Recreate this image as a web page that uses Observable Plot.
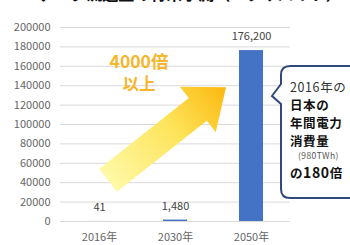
<!DOCTYPE html>
<html><head><meta charset="utf-8">
<script src="https://cdn.jsdelivr.net/npm/d3@7"></script>
<script src="https://cdn.jsdelivr.net/npm/@observablehq/plot@0.6"></script>
<style>
html,body{margin:0;padding:0;background:#fff;overflow:hidden;}
#chart{position:relative;width:350px;height:245px;overflow:hidden;}
</style></head><body><div id="chart"></div>
<script>
const years = ["2016年", "2030年", "2050年"];
const values = [41, 1480, 176200];
const valueLabels = ["41", "1,480", "176,200"];
const yTicks = [0, 20000, 40000, 60000, 80000, 100000, 120000, 140000, 160000, 180000, 200000];
const growthLines = ["4000倍", "以上"];
const calloutLines = ["2016年の", "日本の", "年間電力", "消費量", "(980TWh)"];
const calloutLast = ["の", "180", "倍"];
const titleText = "データ流通量の将来予測（エクサバイト）";

const data = years.map((year, i) => ({year, value: values[i], label: valueLabels[i]}));
const FONT = "'Noto Sans CJK JP', 'Noto Sans', sans-serif";

function annotations(index, scales, values, dims) {
  const {x, y} = scales;
  const bw = x.bandwidth();
  const g = d3.create("svg:g");
  // title (cut off at top)
  g.append("text").attr("x", 190).attr("y", 0).attr("text-anchor", "middle")
    .attr("font-size", 16).attr("font-weight", "bold").attr("fill", "#111").text(titleText);
  // arrow
  const tail = [x(years[0]) + bw / 2 + 9, y(41800)];
  const tip = [x(years[2]) + bw / 2 - 25, y(138000)];
  const dx = tip[0] - tail[0], dy = tip[1] - tail[1], L = Math.hypot(dx, dy);
  const u = [dx / L, dy / L], n = [-u[1], u[0]];
  const hl = 36, hs = 14.5, hh = 29;
  const base = [tip[0] - u[0] * hl, tip[1] - u[1] * hl];
  const P = (p, k) => [p[0] + n[0] * k, p[1] + n[1] * k];
  const pts = [P(tail, hs), P(base, hs), P(base, hh), tip, P(base, -hh), P(base, -hs), P(tail, -hs)];
  const defs = g.append("defs");
  const grad = defs.append("linearGradient").attr("id", "arrowGrad")
    .attr("gradientUnits", "userSpaceOnUse")
    .attr("x1", tail[0]).attr("y1", tail[1]).attr("x2", tip[0]).attr("y2", tip[1]);
  grad.append("stop").attr("offset", "0%").attr("stop-color", "#fff9a8");
  grad.append("stop").attr("offset", "55%").attr("stop-color", "#fde45a");
  grad.append("stop").attr("offset", "100%").attr("stop-color", "#fbb80f");
  g.append("polygon").attr("points", pts.map(p => p.join(",")).join(" ")).attr("fill", "url(#arrowGrad)");
  // growth text
  const gx = x(years[0]) + bw / 2 + 40;
  g.append("text").attr("x", gx).attr("y", 68).attr("text-anchor", "middle")
    .attr("font-size", 17.5).attr("font-weight", "bold").attr("fill", "#f7b52c").text(growthLines[0]);
  g.append("text").attr("x", gx).attr("y", 90).attr("text-anchor", "middle")
    .attr("font-size", 16.5).attr("font-weight", "bold").attr("fill", "#f7b52c").text(growthLines[1]);
  // callout box
  const bx = 281, by = 66, bb = 198, r = 9, right = 380;
  const path = `M${bx + r},${by} L${right},${by} L${right},${bb} L${bx + r},${bb} Q${bx},${bb} ${bx},${bb - r} L${bx},${104} L${272},${96} L${bx},${84} L${bx},${by + r} Q${bx},${by} ${bx + r},${by} Z`;
  g.append("path").attr("d", path).attr("fill", "#fff").attr("stroke", "#2f4a78").attr("stroke-width", 2);
  const tx = 290;
  const specs = [
    {y: 92, size: 12.5, weight: "normal", fill: "#333", ls: 0.6},
    {y: 110, size: 12.5, weight: "bold", fill: "#111", ls: 0.6},
    {y: 128, size: 12.5, weight: "bold", fill: "#111", ls: 0.6},
    {y: 146, size: 12.5, weight: "bold", fill: "#111", ls: 0.6},
    {y: 159, size: 8.5, weight: "normal", fill: "#555", dx: 8, ls: 0.4}
  ];
  calloutLines.forEach((t, i) => {
    const s = specs[i];
    g.append("text").attr("x", tx + (s.dx || 0)).attr("y", s.y).attr("font-size", s.size)
      .attr("text-anchor", "start").attr("letter-spacing", s.ls)
      .attr("font-weight", s.weight).attr("fill", s.fill).text(t);
  });
  const last = g.append("text").attr("x", tx).attr("y", 178).attr("fill", "#111")
    .attr("text-anchor", "start").attr("font-weight", "bold").attr("letter-spacing", 0.6);
  last.append("tspan").attr("font-size", 12.5).text(calloutLast[0]);
  last.append("tspan").attr("font-size", 14).text(calloutLast[1]);
  last.append("tspan").attr("font-size", 12.5).text(calloutLast[2]);
  return g.node();
}

const chart = Plot.plot({
  width: 350, height: 245,
  marginTop: 27, marginBottom: 24, marginLeft: 60, marginRight: 60,
  style: {fontFamily: FONT, fontSize: "11px", color: "#666", background: "white", overflow: "visible"},
  x: {domain: years, paddingInner: 0.69, paddingOuter: 0.345, label: null},
  y: {domain: [0, 200000], label: null},
  marks: [
    Plot.ruleY(yTicks, {stroke: "#d9d9d9", strokeWidth: 1}),
    Plot.barY(data, {x: "year", y: "value", fill: "#4472c4"}),
    Plot.text(data, {x: "year", y: "value", text: "label", dy: -14, fill: "#444", fontSize: 11}),
    Plot.axisY({ticks: yTicks, tickSize: 0, tickPadding: 10, tickFormat: d => String(d), label: null, fontSize: 11}),
    Plot.axisX({tickSize: 0, tickPadding: 12, label: null, fontSize: 11}),
    annotations
  ]
});
document.getElementById("chart").appendChild(chart);
</script></body></html>
